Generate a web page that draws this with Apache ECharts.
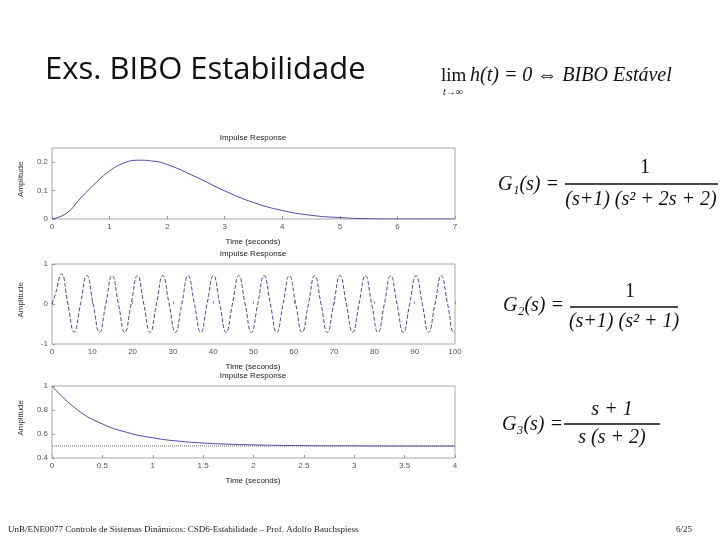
<!DOCTYPE html>
<html><head><meta charset="utf-8">
<script src="https://cdn.jsdelivr.net/npm/echarts@6/dist/echarts.min.js"></script>
<style>html,body{margin:0;background:#fff}#main{width:720px;height:540px}</style>
</head><body><div id="main"></div>
<script>
// impulse responses: [time, amplitude]
var h1 = [[0,0],[0.25,0.02],[0.5,0.074],[0.75,0.125],[1,0.169],[1.25,0.197],[1.5,0.207],[1.75,0.204],[2,0.192],
  [2.5,0.148],[3,0.099],[3.5,0.058],[4,0.030],[4.5,0.013],[5,0.005],[5.5,0.001],[6,0],[7,0]];
var h2 = [[0,0],[0.79,0.23],[2.36,0.75],[3.93,0.01],[5.50,-0.70],[7.07,0],[8.64,0.71],[10.21,0],[11.78,-0.71],
  [13.35,0],[14.92,0.71],[16.49,0],[18.06,-0.71],[19.63,0],[21.21,0.71],[22.78,0],[24.35,-0.71],[25.92,0],
  [27.49,0.71],[29.06,0],[30.63,-0.71],[32.20,0],[33.77,0.71],[35.34,0],[36.91,-0.71],[38.48,0],[40.06,0.71],
  [41.63,0],[43.20,-0.71],[44.77,0],[46.34,0.71],[47.91,0],[49.48,-0.71],[51.05,0],[52.62,0.71],[54.19,0],
  [55.76,-0.71],[57.33,0],[58.90,0.71],[60.48,0],[62.05,-0.71],[63.62,0],[65.19,0.71],[66.76,0],[68.33,-0.71],
  [69.90,0],[71.47,0.71],[73.04,0],[74.61,-0.71],[76.18,0],[77.75,0.71],[79.33,0],[80.90,-0.71],[82.47,0],
  [84.04,0.71],[85.61,0],[87.18,-0.71],[88.75,0],[90.32,0.71],[91.89,0],[93.46,-0.71],[95.03,0],[96.60,0.71],
  [98.17,0],[99.74,-0.71],[100,-0.70]];
var h3 = [[0,1],[0.25,0.803],[0.5,0.684],[0.75,0.612],[1,0.568],[1.25,0.541],[1.5,0.525],[1.75,0.515],[2,0.509],
  [2.5,0.503],[3,0.501],[3.5,0.5],[4,0.5]];
var h3final = [[0,0.5],[4,0.5]];
var xmax = [7, 100, 4], xstep = [1, 10, 0.5];
var ymin = [0, -1, 0.4], ymax = [0.25, 1, 1], ystep = [0.1, 1, 0.2];
var tops = [148, 264, 386], bottoms = [219, 344, 458];

var chart = echarts.init(document.getElementById('main'));
var grids = [], xs = [], ys = [], series = [], graphics = [];
var small = {color:'#555', fontSize: 8, fontFamily:'Liberation Sans'};
for (var i = 0; i < 3; i++) {
  grids.push({left: 52, right: 265, top: tops[i], height: bottoms[i]-tops[i], show: true, borderColor: '#aaa', borderWidth: 1});
  xs.push({type:'value', gridIndex:i, min:0, max:xmax[i], interval:xstep[i], axisLine:{show:false},
    axisTick:{inside:true, length:3, lineStyle:{color:'#999'}}, splitLine:{show:false},
    axisLabel:Object.assign({margin:4, showMaxLabel:true}, small)});
  ys.push({type:'value', gridIndex:i, min:ymin[i], max:ymax[i], interval:ystep[i], axisLine:{show:false},
    axisTick:{inside:true, length:3, lineStyle:{color:'#999'}}, splitLine:{show:false},
    axisLabel:Object.assign({margin:4, showMaxLabel: i>0, formatter:function(v){return +v.toFixed(2);}}, small)});
  graphics.push({type:'text', left: 17, top: (tops[i]+bottoms[i])/2 - 22, rotation: Math.PI/2,
    style:{text:'Amplitude', fill:'#333', font:'8px Liberation Sans'}, originX:0, originY:0});
  graphics.push({type:'text', x: 253, y: tops[i]-14, style:{text:'Impulse Response', font:'8px Liberation Sans', fill:'#222', textAlign:'center'}});
  graphics.push({type:'text', x: 253, y: bottoms[i]+19, style:{text:'Time (seconds)', font:'8px Liberation Sans', fill:'#222', textAlign:'center'}});
}
var lineC = '#4a4aa8';
series.push({type:'line', xAxisIndex:0, yAxisIndex:0, data:h1, smooth:true, symbol:'none', lineStyle:{color:lineC, width:1}});
series.push({type:'line', xAxisIndex:1, yAxisIndex:1, data:h2, smooth:0.5, symbol:'none', lineStyle:{color:lineC, width:1, type:[4,2]}});
series.push({type:'line', xAxisIndex:2, yAxisIndex:2, data:h3, smooth:true, symbol:'none', lineStyle:{color:lineC, width:1}});
series.push({type:'line', xAxisIndex:2, yAxisIndex:2, data:h3final, symbol:'none', lineStyle:{color:'#666', width:1, type:'dotted'}});

var serif = 'Liberation Serif';
function t(x, y, s, size, italic, align) {
  graphics.push({type:'text', x:x, y:y, style:{text:s, font:(italic?'italic ':'')+size+'px '+serif, fill:'#111', textAlign:align||'left', textVerticalAlign:'middle'}});
}
function bar(x1, x2, y) {
  graphics.push({type:'line', shape:{x1:x1, y1:y, x2:x2, y2:y}, style:{stroke:'#111', lineWidth:1.3}});
}
graphics.push({type:'text', x:45, y:70, style:{text:'Exs. BIBO Estabilidade', font:'31px Open Sans', fill:'#111', textVerticalAlign:'middle'}});
t(441, 76, 'lim', 19, false); t(443, 92, 't→∞', 10, true);
t(470, 76, 'h(t) = 0 ⇔ BIBO Estável', 20, true);
t(498, 185, 'G₁(s) =', 20, true); t(640, 168, '1', 20, false); bar(565, 718, 184); t(641, 200, '(s+1) (s² + 2s + 2)', 20, true, 'center');
t(503, 306, 'G₂(s) =', 20, true); t(625, 292, '1', 20, false); bar(570, 678, 307); t(624, 322, '(s+1) (s² + 1)', 20, true, 'center');
t(502, 425, 'G₃(s) =', 20, true); t(612, 410, 's + 1', 20, true, 'center'); bar(564, 660, 424); t(612, 438, 's (s + 2)', 20, true, 'center');
graphics.push({type:'text', x:8, y:530, style:{text:'UnB/ENE0077 Controle de Sistemas Dinâmicos: CSD6-Estabilidade – Prof. Adolfo Bauchspiess', font:'9px '+serif, fill:'#222', textVerticalAlign:'middle'}});
graphics.push({type:'text', x:676, y:530, style:{text:'6/25', font:'9px '+serif, fill:'#222', textVerticalAlign:'middle'}});

chart.setOption({backgroundColor:'#fff', animation:false, grid:grids, xAxis:xs, yAxis:ys, series:series, graphic:graphics});
</script></body></html>
